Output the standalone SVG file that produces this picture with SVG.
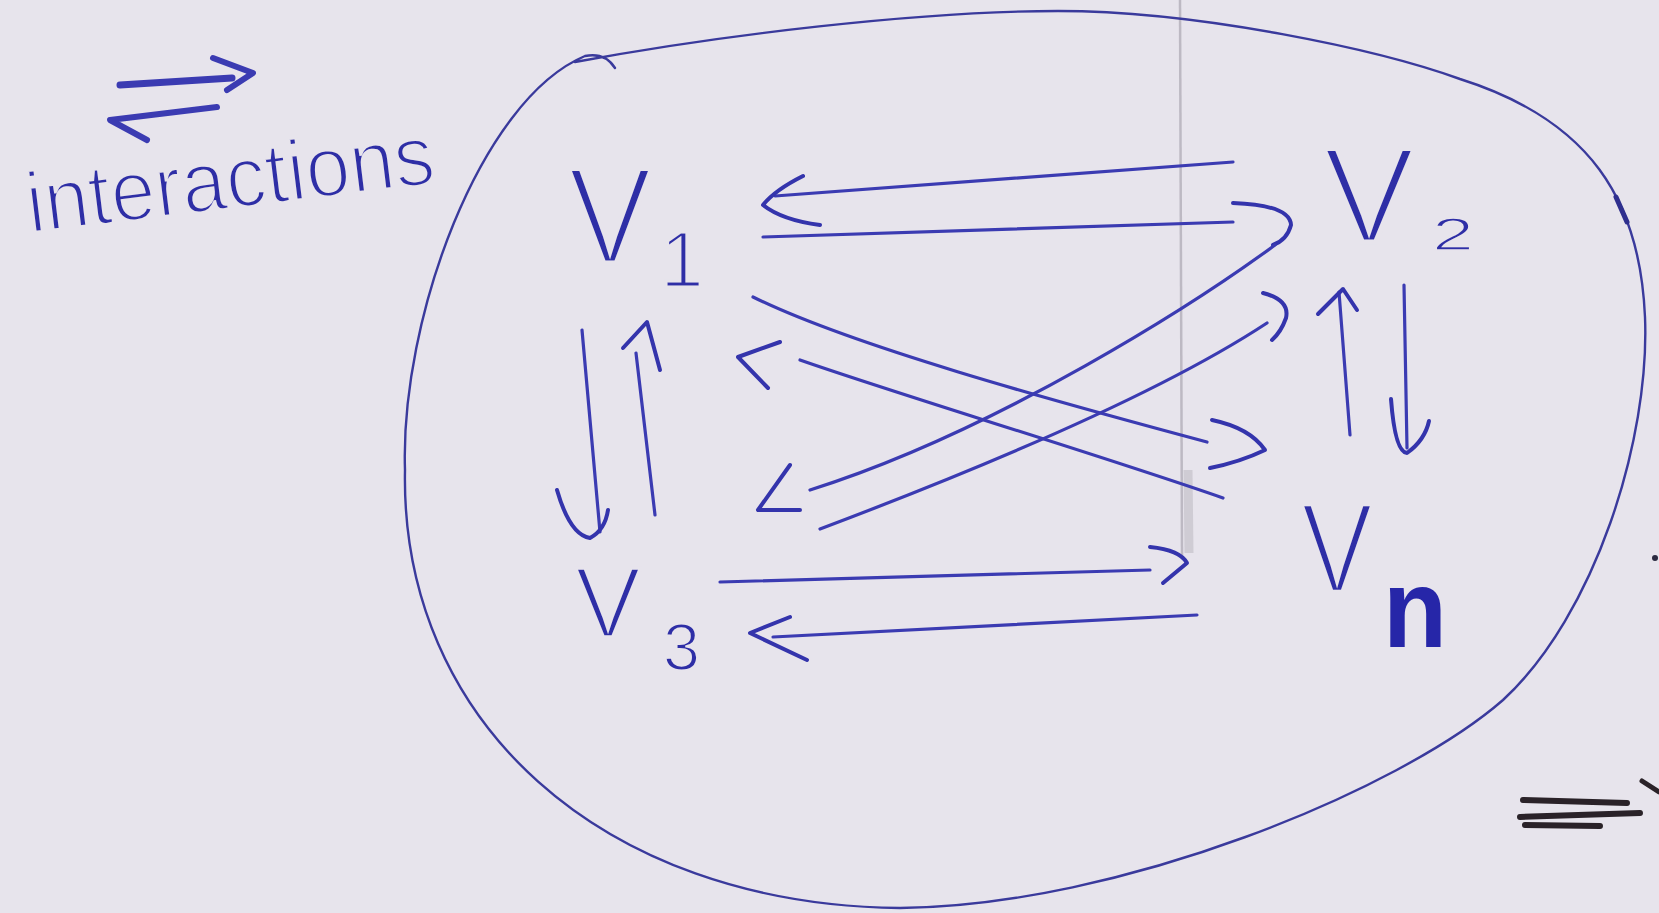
<svg xmlns="http://www.w3.org/2000/svg" width="1659" height="913" viewBox="0 0 1659 913">
<defs>
<style>
.ink{fill:none;stroke:#3b3bb2;stroke-width:3.2;stroke-linecap:round;stroke-linejoin:round}
.head{fill:none;stroke:#3434ac;stroke-width:4;stroke-linecap:round;stroke-linejoin:round}
.lbl{font-family:"Liberation Sans","DejaVu Sans",sans-serif;fill:#2e2ea6;stroke:#e7e4ec;paint-order:normal}
.outline{fill:none;stroke:#3a3a9c;stroke-width:2.4;stroke-linecap:round}
</style>
</defs>
<rect width="1659" height="913" fill="#e7e4ec"/>
<g id="paper-line">
<line x1="1180" y1="0" x2="1182" y2="555" stroke="#bdb9c3" stroke-width="2.5"/>
<line x1="1188" y1="470" x2="1189" y2="553" stroke="#cfccd4" stroke-width="9"/>
</g>
<g id="boundary">
<path class="outline" d="M615,68 Q605,52 585,56 C480,100 400,320 405,470 C400,720 600,905 900,908 C1120,906 1400,790 1503,700 C1595,615 1650,440 1645,317 C1640,200 1590,120 1460,79 C1380,50 1200,11 1058,11 C920,11 720,35 575,62"/>
<path d="M1616,197 L1627,222" fill="none" stroke="#2f2f8e" stroke-width="5" stroke-linecap="round"/>
<circle cx="1655" cy="558" r="3" fill="#2a2a40"/>
</g>
<g id="legend">
<path class="ink" style="stroke-width:7" d="M120,85 L232,78"/>
<path class="ink" style="stroke-width:6" d="M213,58 L253,73 L227,90"/>
<path class="ink" style="stroke-width:6" d="M217,107 L110,120 L147,140"/>
<text class="lbl" x="30" y="233" font-size="86" stroke-width="3" textLength="410" lengthAdjust="spacingAndGlyphs" transform="rotate(-7 30 233)">interactions</text>
</g>
<g id="connectors">
<g id="v2-v1"><path class="ink" d="M1233,162 L775,196"/><path class="head" d="M803,176 Q775,190 763,205 Q782,220 820,225"/></g>
<g id="v1-v2"><path class="ink" d="M763,237 L1233,222"/><path class="head" d="M1233,203 Q1290,205 1291,225 Q1287,240 1273,245"/></g>
<g id="v2-v3"><path class="ink" d="M1275,245 C1200,300 1000,430 810,490"/><path class="head" d="M790,465 L758,510 L800,510"/></g>
<g id="v3-v2"><path class="ink" d="M820,529 C950,480 1150,400 1267,323"/><path class="head" d="M1263,293 Q1290,300 1286,318 Q1281,332 1272,340"/></g>
<g id="v1-vn"><path class="ink" d="M753,297 C850,345 1050,400 1207,442"/><path class="head" d="M1212,420 Q1250,428 1265,450 Q1240,462 1210,468"/></g>
<g id="vn-v1"><path class="ink" d="M1223,498 C1100,455 900,395 800,360"/><path class="head" d="M780,342 L738,357 L768,388"/></g>
<g id="v1-v3"><path class="ink" d="M582,330 L600,532"/><path class="head" d="M557,490 Q570,535 590,538 Q605,530 608,510"/></g>
<g id="v3-v1"><path class="ink" d="M655,515 L636,353"/><path class="head" d="M623,348 L647,322 L660,370"/></g>
<g id="v2-vn"><path class="ink" d="M1404,285 L1407,448"/><path class="head" d="M1391,399 Q1395,452 1407,453 Q1425,440 1429,421"/></g>
<g id="vn-v2"><path class="ink" d="M1350,435 L1339,292"/><path class="head" d="M1318,314 L1343,289 L1357,310"/></g>
<g id="v3-vn"><path class="ink" d="M720,582 L1150,570"/><path class="head" d="M1150,547 Q1180,550 1187,563 L1163,583"/></g>
<g id="vn-v3"><path class="ink" d="M1197,615 L773,637"/><path class="head" d="M790,617 L750,633 L807,660"/></g>
</g>
<g id="node-v1">
<text class="lbl" x="568" y="263" font-size="138" stroke-width="5" textLength="84" lengthAdjust="spacingAndGlyphs">V</text>
<text class="lbl" x="660" y="287" font-size="80" stroke-width="3" textLength="44" lengthAdjust="spacingAndGlyphs">1</text>
</g>
<g id="node-v2">
<text class="lbl" x="1323" y="242" font-size="135" stroke-width="5" textLength="92" lengthAdjust="spacingAndGlyphs">V</text>
<text class="lbl" x="1432" y="250" font-size="46" stroke-width="1.5" textLength="42" lengthAdjust="spacingAndGlyphs">2</text>
</g>
<g id="node-v3">
<text class="lbl" x="575" y="637" font-size="100" stroke-width="3.5" textLength="66" lengthAdjust="spacingAndGlyphs">V</text>
<text class="lbl" x="663" y="670" font-size="67" stroke-width="2" textLength="37" lengthAdjust="spacingAndGlyphs">3</text>
</g>
<g id="node-vn">
<text class="lbl" x="1301" y="592" font-size="128" stroke-width="4.5" textLength="72" lengthAdjust="spacingAndGlyphs">V</text>
<text class="lbl" x="1383" y="647" font-size="112" font-weight="bold" textLength="64" lengthAdjust="spacingAndGlyphs" style="stroke:none;fill:#2626a8">n</text>
</g>
<g id="marks">
<path d="M1523,800 L1627,803 M1520,817 L1640,813 M1525,825 L1600,826" fill="none" stroke="#2a2228" stroke-width="6" stroke-linecap="round"/>
<path d="M1642,781 L1659,792" fill="none" stroke="#2a2228" stroke-width="5" stroke-linecap="round"/>
</g>
</svg>
